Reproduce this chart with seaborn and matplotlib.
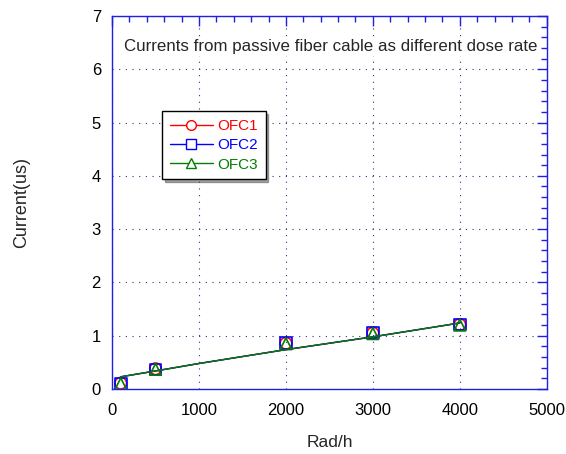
import matplotlib
matplotlib.use("Agg")
import matplotlib.pyplot as plt
from matplotlib.ticker import MultipleLocator
import seaborn as sns
import pandas as pd

# measured points
dose_rate = [100, 500, 2000, 3000, 4000]
ofc1 = [0.11, 0.38, 0.86, 1.05, 1.21]
ofc2 = [0.10, 0.37, 0.86, 1.06, 1.21]
ofc3 = [0.10, 0.37, 0.85, 1.04, 1.20]

# fitted curve
fit_x = [100, 500, 1000, 2000, 3000, 4000]
fit_y = [0.23, 0.34, 0.48, 0.74, 0.98, 1.24]

series = ["OFC1", "OFC2", "OFC3"]
colors = ["#ff0000", "#0000ff", "#008000"]
markers = ["o", "s", "^"]

sns.set_style("white")
plt.rcParams['font.family'] = ['Liberation Sans', 'DejaVu Sans']

fig = plt.figure(figsize=(5.66, 4.54), dpi=100)
ax = fig.add_axes([0.198, 0.143, 0.768, 0.822])

df = pd.DataFrame({"x": dose_rate * 3,
                   "y": ofc1 + ofc2 + ofc3,
                   "s": [s for s in series for _ in dose_rate]})

handles = []
for name, col, mk in zip(series, colors, markers):
    sns.lineplot(x=fit_x, y=fit_y, color=col, lw=1.0, ax=ax)
    sub = df[df.s == name]
    sns.scatterplot(data=sub, x="x", y="y", marker=mk, s=70,
                    facecolor="none", edgecolor=col, linewidth=1.2, ax=ax)
    h, = ax.plot([], [], color=col, lw=1.0, marker=mk, ms=7,
                 mfc="white", mec=col, label=name)
    handles.append(h)

ax.set_xlim(0, 5000)
ax.set_ylim(0, 7)
ax.xaxis.set_major_locator(MultipleLocator(1000))
ax.xaxis.set_minor_locator(MultipleLocator(200))
ax.yaxis.set_major_locator(MultipleLocator(1))
ax.yaxis.set_minor_locator(MultipleLocator(0.2))

blue = "#2020e0"
for sp in ax.spines.values():
    sp.set_color(blue)
    sp.set_linewidth(1.0)
ax.tick_params(which="both", direction="in", top=True, right=True,
               color=blue, labelcolor="black", labelsize=12)
ax.tick_params(which="major", length=7, width=1)
ax.tick_params(which="minor", length=4, width=1)
ax.tick_params(axis="x", pad=10)
ax.tick_params(axis="y", pad=8)

ax.grid(True, which="major", color="#303080", lw=0.8, linestyle=(0, (1, 5)))

ax.set_xlabel("Rad/h", fontsize=12.5, labelpad=12)
ax.set_ylabel("Current(us)", fontsize=13, labelpad=44)

ax.text(2510, 6.42, "Currents from passive fiber cable as different dose rate",
        ha="center", va="center", fontsize=12.2,
        bbox=dict(facecolor="white", edgecolor="none", pad=1))

leg = ax.legend(handles=handles, loc="upper left", bbox_to_anchor=(0.098, 0.765),
                frameon=True, fancybox=False, shadow=True, fontsize=11,
                handlelength=2.8, handletextpad=0.3, borderpad=0.5,
                labelspacing=0.35)
leg.get_frame().set_edgecolor("black")
leg.get_frame().set_linewidth(1.0)
for t, c in zip(leg.get_texts(), colors):
    t.set_color(c)

fig.savefig("out.png", dpi=100)
